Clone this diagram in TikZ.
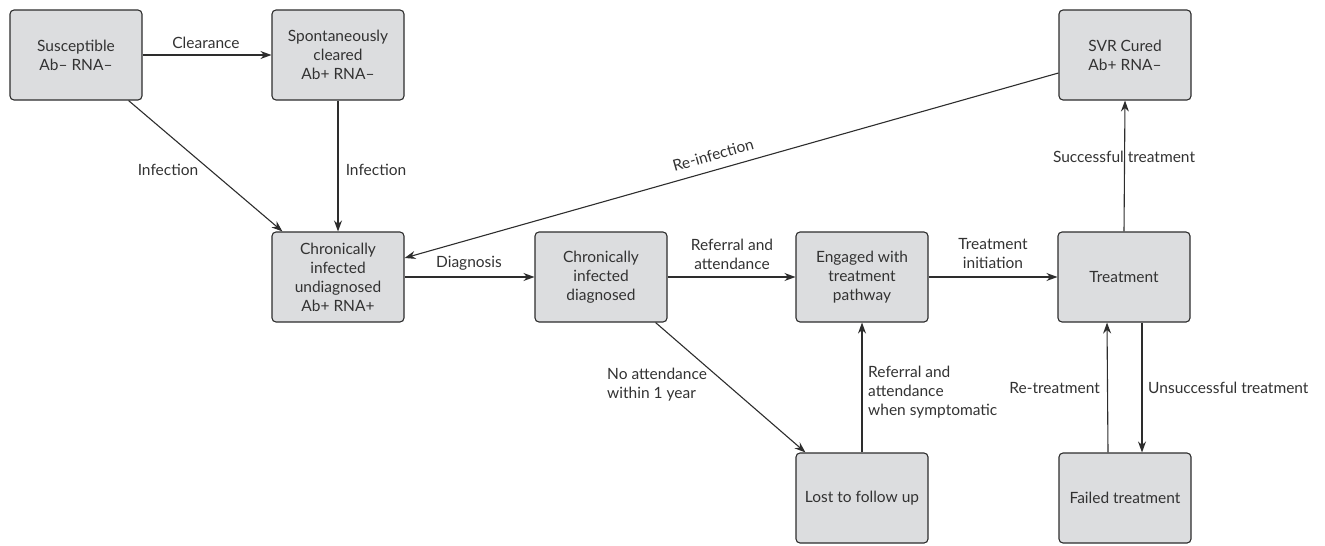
\documentclass[tikz,border=0pt]{standalone}
\usepackage{fontspec}
\setmainfont{Lato}
\usetikzlibrary{arrows.meta}
\definecolor{boxfill}{RGB}{220,221,223}
\definecolor{boxline}{RGB}{45,45,45}
\definecolor{txt}{RGB}{50,50,50}
\begin{document}
\begin{tikzpicture}[x=1pt,y=-1pt,
  state/.style={draw=boxline,fill=boxfill,rounded corners=4pt,line width=1.1pt,
    minimum width=132pt,minimum height=90pt,align=center,inner sep=2pt,
    text=txt,font=\fontsize{15.5}{19}\selectfont},
  lab/.style={text=txt,font=\fontsize{15.5}{19}\selectfont,inner sep=1pt},
  conn/.style={draw=boxline,line width=1.1pt,-{Stealth[length=11pt,width=8pt]}}]
\useasboundingbox (0,0) rectangle (1325,546);
\node[state] (sus) at (76,55) {Susceptible\\Ab– RNA–};
\node[state] (spc) at (338,55) {Spontaneously\\cleared\\Ab+ RNA–};
\node[state] (svr) at (1125,55) {SVR Cured\\Ab+ RNA–};
\node[state] (und) at (338,277) {Chronically\\infected\\undiagnosed\\Ab+ RNA+};
\node[state] (dia) at (601,277) {Chronically\\infected\\diagnosed};
\node[state] (eng) at (862,277) {Engaged with\\treatment\\pathway};
\node[state] (trt) at (1124,277) {Treatment};
\node[state] (lost) at (862,498) {Lost to follow up};
\node[state] (fail) at (1125,498) {Failed treatment};

% Clearance
\draw[conn] (sus.east) -- (spc.west);
\node[lab] (lclr) at (206,43) {Clearance};
% Infection from susceptible
\draw[conn] (sus.south east) ++(-14,0) coordinate (s1) (s1) -- ([xshift=11pt]und.north west);
\node[lab] (linf1) at (168,170) {Infection};
% Infection from spontaneously cleared
\draw[conn] (spc.south) -- (und.north);
\node[lab] (linf2) at (376,170) {Infection};
% Re-infection
\draw[conn] ([yshift=-18pt]svr.west) -- ([yshift=19pt]und.east);
\node[lab,rotate=15.8] (lrei) at (713,155) {Re-infection};
% Diagnosis
\draw[conn] (und.east) -- (dia.west);
\node[lab] (ldia) at (469,263) {Diagnosis};
% Referral and attendance
\draw[conn] (dia.east) -- (eng.west);
\node[lab,align=center] (lref) at (732,254) {Referral and\\attendance};
% Treatment initiation
\draw[conn] (eng.east) -- (trt.west);
\node[lab,align=center] (lti) at (993,254) {Treatment\\initiation};
% Successful treatment
\draw[conn] (trt.north) -- (svr.south);
\node[lab] (lsuc) at (1124,157) {Successful treatment};
% No attendance
\draw[conn] ([xshift=-12pt]dia.south east) -- ([xshift=10pt]lost.north west);
\node[lab,align=left,anchor=west] (lno) at (606,385) {No attendance\\within 1 year};
% Referral when symptomatic
\draw[conn] (lost.north) -- (eng.south);
\node[lab,align=left,anchor=west] (lrs) at (867,392) {Referral and\\attendance\\when symptomatic};
% Unsuccessful / Re-treatment
\draw[conn] ([xshift=18pt]trt.south) -- ([xshift=17pt]fail.north);
\draw[conn] ([xshift=-17pt]fail.north) -- ([xshift=-17pt]trt.south);
\node[lab,anchor=east] (lre) at (1101,388) {Re-treatment};
\node[lab,anchor=west] (lun) at (1147,388) {Unsuccessful treatment};
\end{tikzpicture}
\end{document}
